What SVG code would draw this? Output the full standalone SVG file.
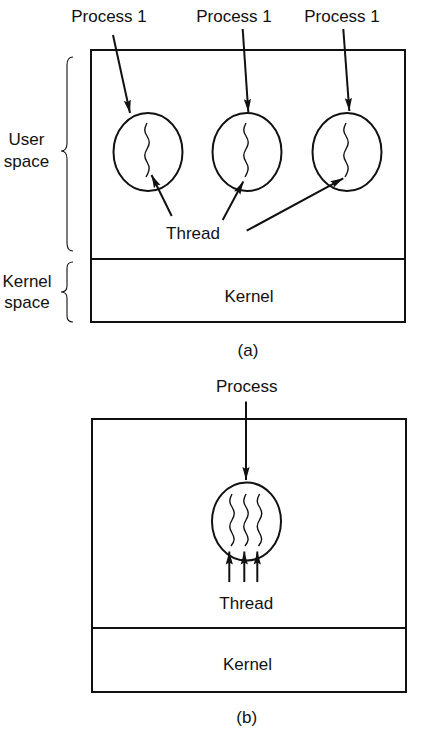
<svg xmlns="http://www.w3.org/2000/svg" width="432" height="746" viewBox="0 0 432 746">
<defs>
<marker id="ah" markerUnits="userSpaceOnUse" markerWidth="14" markerHeight="10" refX="13" refY="5" orient="auto">
<path d="M0,1.4 L13,5 L0,8.6 L2,5 Z" fill="#111"/>
</marker>
<style>
.box{fill:none;stroke:#111;stroke-width:2}
.circ{fill:none;stroke:#111;stroke-width:2}
.thr{fill:none;stroke:#111;stroke-width:1.4}
.brace{fill:none;stroke:#111;stroke-width:1.1}
.arr{fill:none;stroke:#111;stroke-width:2;marker-end:url(#ah)}
text{font-family:"Liberation Sans",Arial,sans-serif;font-size:17px;fill:#111;text-anchor:middle}
</style>
</defs>
<rect width="432" height="746" fill="#fff"/>

<g id="partA">
<g id="userSpaceA">
<rect class="box" x="91" y="50" width="314" height="209"/>
</g>
<g id="kernelA">
<rect class="box" x="91" y="259" width="314" height="63"/>
<text x="249" y="302">Kernel</text>
</g>
<g id="process1">
<ellipse class="circ" cx="148" cy="152" rx="34.5" ry="39"/>
<path class="thr" d="M147,123 c-3,6 -3,8 0,13 s3,8 0,13 s-3,8 0,13 s3,8 -1,15"/>
<text x="109" y="22">Process 1</text>
</g>
<g id="process2">
<ellipse class="circ" cx="247" cy="152" rx="34.5" ry="39"/>
<path class="thr" d="M246,123 c-3,6 -3,8 0,13 s3,8 0,13 s-3,8 0,13 s3,8 -1,15"/>
<text x="234" y="22">Process 1</text>
</g>
<g id="process3">
<ellipse class="circ" cx="347" cy="152" rx="34.5" ry="39"/>
<path class="thr" d="M346,123 c-3,6 -3,8 0,13 s3,8 0,13 s-3,8 0,13 s3,8 -1,15"/>
<text x="342" y="22">Process 1</text>
</g>
<g id="threadLabelA">
<text x="193" y="239">Thread</text>
</g>
<g id="userSpaceLabel">
<path class="brace" d="M73,57 Q67,57 67,65 L67,143 Q67,151 61,151 Q67,151 67,159 L67,243 Q67,251 73,251"/>
<text x="26.5" y="145">User</text>
<text x="26.5" y="167">space</text>
</g>
<g id="kernelSpaceLabel">
<path class="brace" d="M73,262 Q67,262 67,268 L67,286 Q67,292 61,292 Q67,292 67,298 L67,316 Q67,322 73,322"/>
<text x="27" y="287">Kernel</text>
<text x="27" y="308">space</text>
</g>
<text x="248" y="356">(a)</text>
</g>

<g id="partB">
<g id="userSpaceB">
<rect class="box" x="92" y="419" width="314" height="209"/>
</g>
<g id="kernelB">
<rect class="box" x="92" y="628" width="314" height="64"/>
<text x="247.5" y="670">Kernel</text>
</g>
<g id="processB">
<ellipse class="circ" cx="246.5" cy="521.5" rx="34.5" ry="39"/>
<path class="thr" d="M232,494 c-3,6 -3,8 0,13 s3,8 0,13 s-3,8 0,13 s3,8 -1,13"/>
<path class="thr" d="M246,494 c-3,6 -3,8 0,13 s3,8 0,13 s-3,8 0,13 s3,8 -1,13"/>
<path class="thr" d="M259.5,494 c-3,6 -3,8 0,13 s3,8 0,13 s-3,8 0,13 s3,8 -1,13"/>
<text x="246.7" y="391.5">Process</text>
</g>
<g id="threadLabelB">
<text x="246.3" y="609">Thread</text>
</g>
<text x="246.7" y="723">(b)</text>
</g>

<g id="connectors">
<line class="arr" x1="113" y1="35" x2="130" y2="113"/>
<line class="arr" x1="242.7" y1="29" x2="248.3" y2="112"/>
<line class="arr" x1="343.3" y1="29" x2="349.3" y2="111"/>
<line class="arr" x1="171.7" y1="216" x2="151.5" y2="175"/>
<line class="arr" x1="222.7" y1="220" x2="243.3" y2="181.5"/>
<line class="arr" x1="246.7" y1="230.7" x2="343.3" y2="178.3"/>
<line class="arr" x1="246" y1="401.5" x2="246" y2="480"/>
<line class="arr" x1="229.3" y1="582" x2="229.3" y2="551.5"/>
<line class="arr" x1="244.3" y1="582" x2="244.3" y2="551.5"/>
<line class="arr" x1="257.3" y1="582" x2="257.3" y2="551.5"/>
</g>
</svg>
